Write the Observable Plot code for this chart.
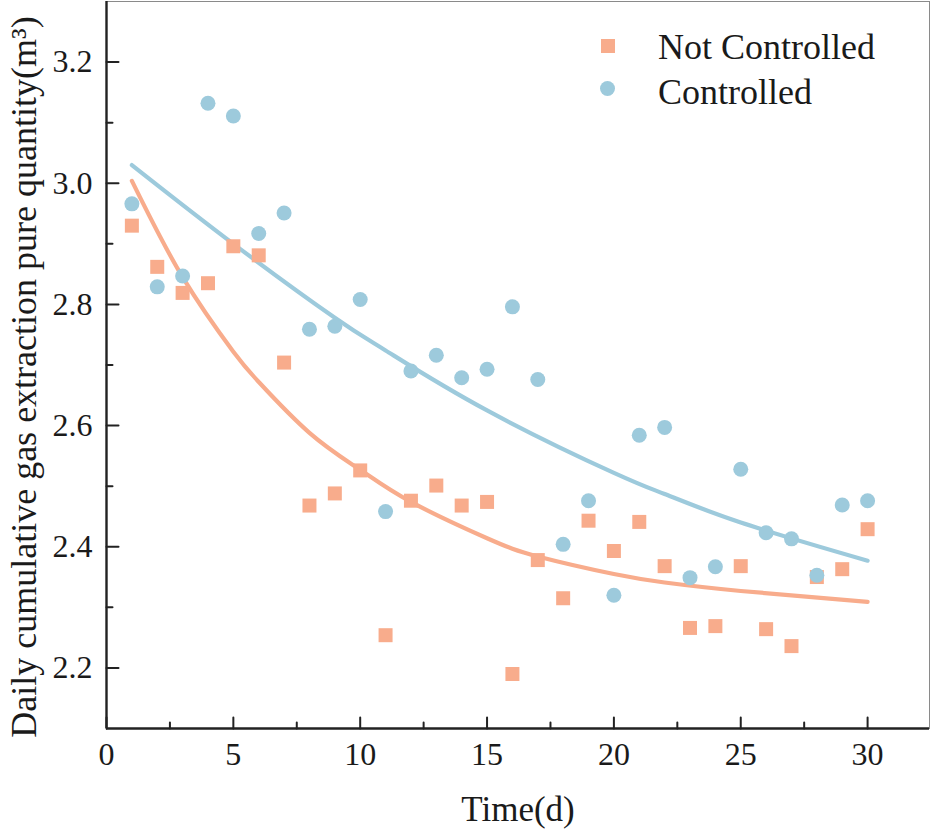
<!DOCTYPE html>
<html>
<head>
<meta charset="utf-8">
<script src="https://cdn.jsdelivr.net/npm/d3@7"></script>
<script src="https://cdn.jsdelivr.net/npm/@observablehq/plot@0.6"></script>
<style>
  html, body { margin: 0; padding: 0; background: #fff; }
  #wrap { position: relative; width: 931px; height: 836px; }
  #chart svg text { font-family: "Liberation Serif", "Times New Roman", serif !important; }
  #legend { position: absolute; left: 0; top: 0; font-family: "Liberation Serif", "Times New Roman", serif; font-size: 36px; color: #1a1a1a; }
  .item { position: absolute; white-space: nowrap; }
  .sym { position: absolute; }
</style>
</head>
<body>
<div id="wrap">
  <div id="chart"></div>
  <div id="legend"></div>
</div>
<script>
// ---- data ----
const days = [1,2,3,4,5,6,7,8,9,10,11,12,13,14,15,16,17,18,19,20,21,22,23,24,25,26,27,28,29,30];
const notControlled = [2.930,2.862,2.819,2.835,2.896,2.881,2.704,2.468,2.488,2.526,2.254,2.476,2.501,2.468,2.474,2.190,2.378,2.315,2.443,2.393,2.441,2.368,2.266,2.269,2.368,2.264,2.236,2.350,2.363,2.429];
const controlled    = [2.966,2.829,2.847,3.132,3.111,2.917,2.951,2.759,2.764,2.808,2.458,2.690,2.716,2.679,2.693,2.796,2.676,2.404,2.476,2.320,2.584,2.597,2.349,2.367,2.528,2.423,2.413,2.353,2.469,2.476];

// fitted curves
const fitNotX = [1,3,5,6,8,10,12,15,17,20,22,25,30];
const fitNotY = [3.004,2.845,2.722,2.672,2.588,2.527,2.474,2.414,2.384,2.355,2.341,2.327,2.309];
const fitCtrlX = [1,5,9,11,15,20,22,25,30];
const fitCtrlY = [3.030,2.900,2.778,2.724,2.625,2.522,2.487,2.440,2.377];

const xDomain = [0, 32.44];
const yDomain = [2.1, 3.3];
const xTicks = [0,5,10,15,20,25,30];
const xMinor = [2.5,7.5,12.5,17.5,22.5,27.5];
const yTicks = [2.2,2.4,2.6,2.8,3.0,3.2];
const yMinor = [2.3,2.5,2.7,2.9,3.1];

const seriesNames = ["Not Controlled", "Controlled"];
const colors = ["#F8AC8C", "#9DCADC"];
const xLabel = "Time(d)";
const yLabel = "Daily cumulative gas extraction pure quantity(m³)";

// ---- tables built from the arrays ----
const ptsNot = days.map((d, i) => ({x: d, y: notControlled[i]}));
const ptsCtrl = days.map((d, i) => ({x: d, y: controlled[i]}));
const lineNot = fitNotX.map((d, i) => ({x: d, y: fitNotY[i]}));
const lineCtrl = fitCtrlX.map((d, i) => ({x: d, y: fitCtrlY[i]}));

const axisColor = "#222";
const serif = "'Liberation Serif', 'Times New Roman', serif";

const chart = Plot.plot({
  width: 931,
  height: 836,
  marginLeft: 106,
  marginRight: 2,
  marginTop: 1,
  marginBottom: 108,
  style: {fontFamily: serif, fontSize: "32px", color: "#1a1a1a", background: "#fff"},
  x: {domain: xDomain, axis: null},
  y: {domain: yDomain, axis: null},
  marks: [
    Plot.frame({stroke: "#8a8a8a", strokeWidth: 1}),
    Plot.ruleX([xDomain[0]], {stroke: axisColor, strokeWidth: 2.4}),
    Plot.ruleY([yDomain[0]], {stroke: axisColor, strokeWidth: 2.4}),
    // inward ticks
    Plot.vector(xTicks, {x: d => d, frameAnchor: "bottom", rotate: 0, length: 11, anchor: "start", r: 0, stroke: axisColor, strokeWidth: 2}),
    Plot.vector(xMinor, {x: d => d, frameAnchor: "bottom", rotate: 0, length: 6, anchor: "start", r: 0, stroke: axisColor, strokeWidth: 2}),
    Plot.vector(yTicks, {y: d => d, frameAnchor: "left", rotate: 90, length: 12, anchor: "start", r: 0, stroke: axisColor, strokeWidth: 2}),
    Plot.vector(yMinor, {y: d => d, frameAnchor: "left", rotate: 90, length: 6, anchor: "start", r: 0, stroke: axisColor, strokeWidth: 2}),
    // tick labels
    Plot.axisX(xTicks, {anchor: "bottom", label: null, tickSize: 0, tickPadding: 14, fontSize: 32, fontFamily: serif, fill: "#1a1a1a", tickFormat: d3.format("d")}),
    Plot.axisY(yTicks, {anchor: "left", label: null, tickSize: 0, tickPadding: 14, fontSize: 32, fontFamily: serif, fill: "#1a1a1a", tickFormat: d3.format(".1f")}),
    // axis titles
    Plot.text([xLabel], {text: d => d, frameAnchor: "bottom", dy: 92, lineAnchor: "bottom", fontSize: 35, fontFamily: serif, fill: "#1a1a1a"}),
    Plot.text([yLabel], {text: d => d, frameAnchor: "left", rotate: -90, dx: -71, dy: 12, lineAnchor: "bottom", textAnchor: "middle", fontSize: 36, fontFamily: serif, fill: "#1a1a1a"}),
    // fitted curves
    Plot.line(lineNot, {x: "x", y: "y", stroke: colors[0], strokeWidth: 4.2, curve: "natural"}),
    Plot.line(lineCtrl, {x: "x", y: "y", stroke: colors[1], strokeWidth: 4.2, curve: "natural"}),
    // points
    Plot.dot(ptsNot, {x: "x", y: "y", symbol: "square", r: 7.9, fill: colors[0], stroke: "none"}),
    Plot.dot(ptsCtrl, {x: "x", y: "y", symbol: "circle", r: 7.5, fill: colors[1], stroke: "none"})
  ]
});
document.getElementById("chart").appendChild(chart);

// legend (HTML overlay)
const legend = document.getElementById("legend");
const legendRows = [
  {name: seriesNames[0], color: colors[0], shape: "square", symTop: 39, textTop: 20},
  {name: seriesNames[1], color: colors[1], shape: "circle", symTop: 81, textTop: 65}
];
legendRows.forEach(r => {
  const s = document.createElement("div");
  s.className = "sym";
  if (r.shape === "square") {
    s.style.cssText = `left:601px;top:${r.symTop}px;width:14px;height:14px;background:${r.color};`;
  } else {
    s.style.cssText = `left:600px;top:${r.symTop}px;width:15px;height:15px;border-radius:50%;background:${r.color};`;
  }
  legend.appendChild(s);
  const t = document.createElement("div");
  t.className = "item";
  t.style.cssText = `left:658px;top:${r.textTop}px;line-height:54px;`;
  t.textContent = r.name;
  legend.appendChild(t);
});
</script>
</body>
</html>
